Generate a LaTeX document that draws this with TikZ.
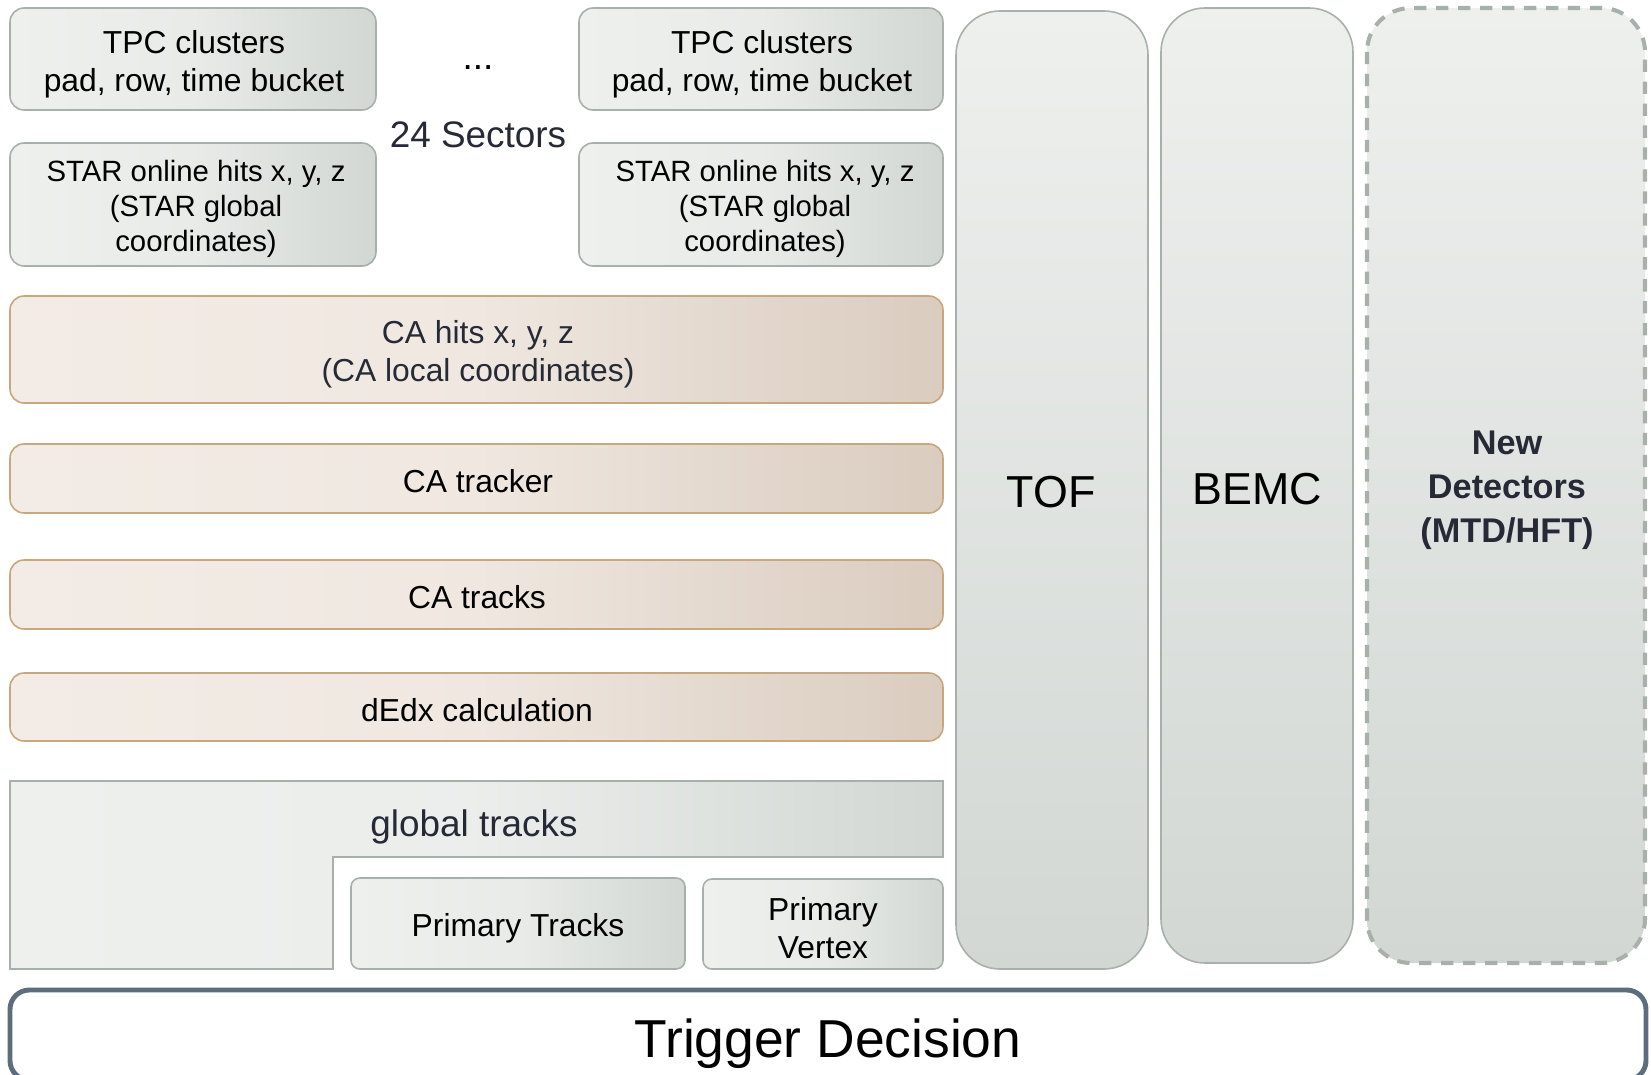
\documentclass[tikz,border=0pt]{standalone}
\usepackage{fontspec}
\setmainfont{Liberation Sans}
\definecolor{boxline}{HTML}{A7B0AB}
\definecolor{greyL}{HTML}{EEF0EE}
\definecolor{greyR}{HTML}{D2D7D4}
\definecolor{tanline}{HTML}{C8A67E}
\definecolor{tanL}{HTML}{F3ECE6}
\definecolor{tanR}{HTML}{DACCBF}
\definecolor{trigline}{HTML}{5D6D7E}
\definecolor{inktext}{HTML}{262A36}
\tikzset{
  greybox/.style={draw=boxline,line width=0.9pt,rounded corners=8pt,
    left color=greyL,right color=greyR,middle color=greyL!80!greyR},
  tanbox/.style={draw=tanline,line width=0.9pt,rounded corners=8pt,
    left color=tanL,right color=tanR,middle color=tanL!85!tanR},
  column/.style={draw=boxline,line width=0.9pt,rounded corners=25pt,
    top color=greyL,bottom color=greyR},
  boxtext/.style={align=center,font=\fontsize{18.1}{21.5}\selectfont},
  bigtext/.style={align=center,font=\fontsize{25.5}{30}\selectfont}
}
\begin{document}
\begin{tikzpicture}[x=0.02cm,y=-0.02cm]
    \useasboundingbox (0,0) rectangle (1651,1075);
    \begin{scope}

    % sector boxes
    \draw[greybox] (10,8) rectangle (376,110);
    \draw[greybox] (579,8) rectangle (943,110);
    \draw[greybox] (10,143) rectangle (376,266);
    \draw[greybox] (579,143) rectangle (943,266);

    \node[boxtext] (tpcA) at (194,64) {TPC clusters\\pad, row, time bucket};
    \node[boxtext] (tpcB) at (762,64) {TPC clusters\\pad, row, time bucket};
    \node[boxtext,font=\fontsize{16.7}{20}\selectfont] (hitsA) at (196,209) {STAR online hits x, y, z\\(STAR global\\coordinates)};
    \node[boxtext,font=\fontsize{16.7}{20}\selectfont] (hitsB) at (765,209) {STAR online hits x, y, z\\(STAR global\\coordinates)};
    \node[anchor=base,font=\fontsize{21}{25}\selectfont] (dots) at (478,70) {...};
    \node[text=inktext,font=\fontsize{21}{25}\selectfont] (sectors) at (478,135) {24 Sectors};

    % CA chain
    \draw[tanbox] (10,296) rectangle (943,403);
    \draw[tanbox] (10,444) rectangle (943,513);
    \draw[tanbox] (10,560) rectangle (943,629);
    \draw[tanbox] (10,673) rectangle (943,741);

    \node[boxtext,text=inktext] (cahits) at (478,354) {CA hits x, y, z\\(CA local coordinates)};
    \node[boxtext] (catracker) at (478,481) {CA tracker};
    \node[boxtext] (catracks) at (477,597) {CA tracks};
    \node[boxtext] (dedx) at (477,710) {dEdx calculation};

    % tracks
    \draw[draw=boxline,line width=0.9pt,left color=greyL,right color=greyR,middle color=greyL!90!greyR]
      (10,781) -- (943,781) -- (943,857) -- (333,857) -- (333,969) -- (10,969) -- cycle;
    \draw[greybox,rounded corners=5pt] (351,878) rectangle (685,969);
    \draw[greybox,rounded corners=5pt] (703,879) rectangle (943,969);

    \node[text=inktext,font=\fontsize{21}{25}\selectfont] (global) at (474,827) {global tracks};
    \node[boxtext] (primtracks) at (518,928) {Primary Tracks};
    \node[boxtext] (primvertex) at (823,928) {Primary\\Vertex};

    % detectors
    \draw[column] (956,11) rectangle (1148,969);
    \draw[column] (1161,8) rectangle (1353,963);
    \draw[column,draw=boxline,line width=2.3pt,dash pattern=on 7pt off 5.5pt] (1367,8) rectangle (1645,963);

    \node[bigtext] (tof) at (1051,492) {TOF};
    \node[bigtext] (bemc) at (1257,489) {BEMC};
    \node[align=center,text=inktext,font=\fontsize{19.5}{25}\bfseries] (newdet) at (1507,490) {New\\Detectors\\(MTD/HFT)};

    % trigger
    \draw[draw=trigline,line width=2.8pt,rounded corners=11pt,fill=white] (10,990) rectangle (1646,1080);
    \node[font=\fontsize{30.4}{36}\selectfont] (trigger) at (828,1044) {Trigger Decision};

    \end{scope}
\end{tikzpicture}
\end{document}
